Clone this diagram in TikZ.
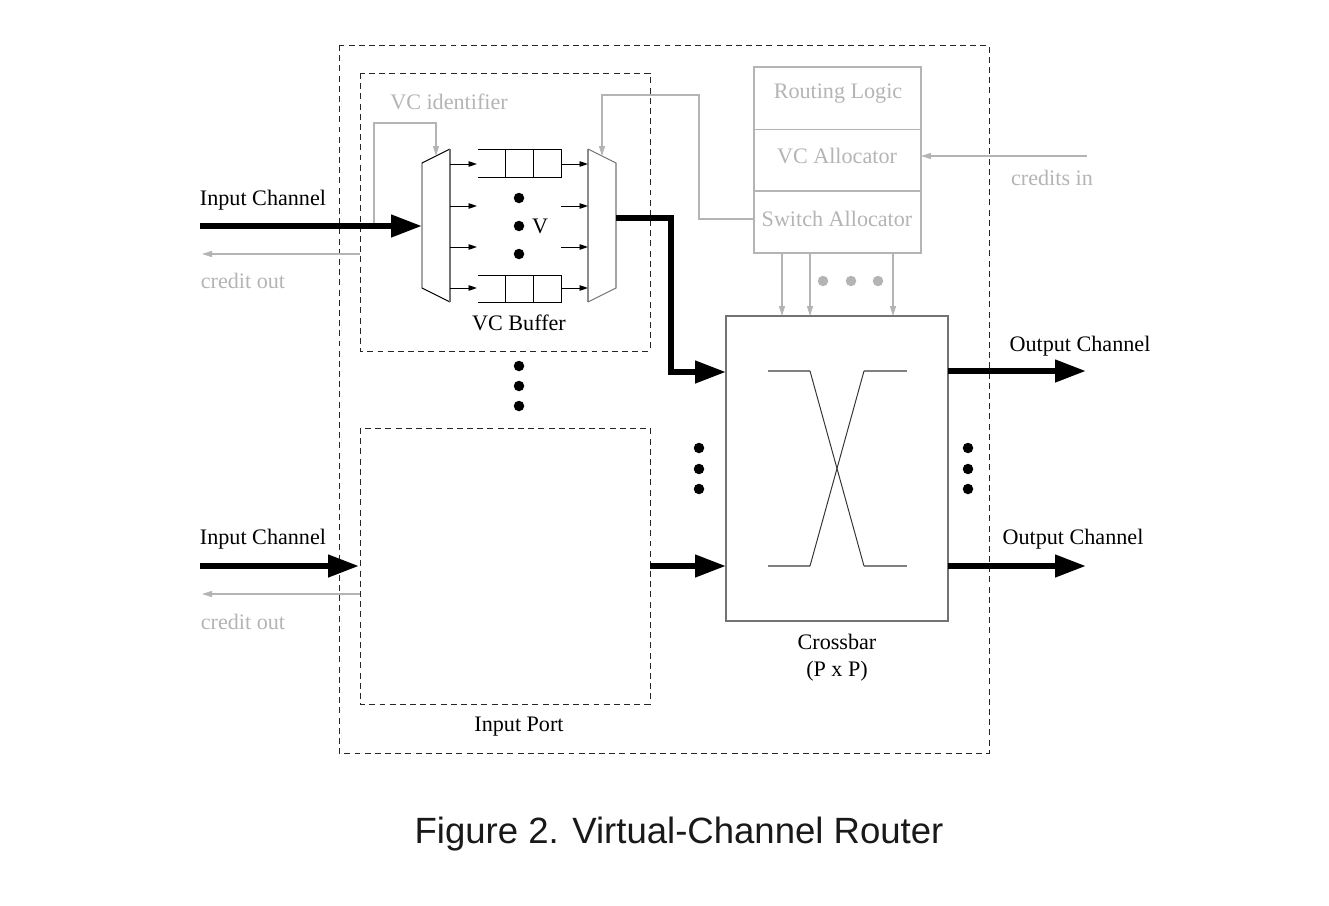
\documentclass[tikz,border=0pt]{standalone}
\usepackage{fontspec}
\setmainfont{Liberation Serif}
\newfontfamily\captionfont{Liberation Sans}
\usetikzlibrary{arrows.meta,calc}
\definecolor{ctrlgray}{HTML}{B4B4B4}
\tikzset{
 lbl/.style={font=\fontsize{12.6}{14}\selectfont,inner sep=0pt},
 graylbl/.style={lbl,text=ctrlgray},
 dashbox/.style={draw,black!85,line width=0.5pt,dash pattern=on 3.4pt off 2.4pt},
 fatline/.style={line width=3.4pt,-{Triangle[length=0.62cm,width=0.43cm]}},
 thinarrow/.style={line width=0.55pt,-{Triangle[length=0.17cm,width=0.11cm]}},
 ctrlline/.style={ctrlgray,line width=0.6pt},
 ctrlarrow/.style={ctrlline,-{Triangle[length=0.2cm,width=0.12cm]}},
 blk/.style={fill=black,circle,inner sep=0pt,minimum size=0.21cm},
 grayblk/.style={blk,fill=ctrlgray},
}
\begin{document}
\begin{tikzpicture}[x=0.02cm,y=-0.02cm]
 \useasboundingbox (0,0) rectangle (1329,906);
 % outer boxes
 \draw[dashbox] (339,45) rectangle (989,753);
 \draw[dashbox] (360,73) rectangle (650,351);
 \draw[dashbox] (360,428) rectangle (650,704);
 \coordinate (inA) at (200,226); \coordinate (inB) at (200,566);
 \coordinate (portB) at (359,566); \coordinate (portBout) at (650,566);
 \coordinate (demuxIn) at (422,226); \coordinate (muxOut) at (616,218);
 \coordinate (xbarA) at (726,372); \coordinate (xbarB) at (726,566);
 \coordinate (xbarC) at (948,371); \coordinate (xbarD) at (948,566);
 \coordinate (outA) at (1086,371); \coordinate (outB) at (1086,566);
 % mux and demux
 \draw[line width=0.55pt] (450,149)--(422,163)--(422,288)--(450,302);
 \draw[black!55,line width=0.7pt] (450,149)--(450,302);
 \draw[black!45,line width=0.7pt] (588,149)--(588,302);
 \draw[black!55,line width=0.6pt] (588,149)--(616,163)--(616,288)--(588,302);
 % vc buffers
 \foreach \ytop/\ybot in {149/177,275/302}{
  \draw[line width=0.55pt] (478,\ytop)--(561,\ytop)--(561,\ybot)--(478,\ybot);
  \draw[line width=0.55pt] (505,\ytop)--(505,\ybot);
  \draw[line width=0.55pt] (533,\ytop)--(533,\ybot);
 }
 \foreach \y in {164,206,247,288}{
  \draw[thinarrow] (450,\y)--(477,\y);
  \draw[thinarrow] (561,\y)--(588,\y);
 }
 \node[blk] (vdotA) at (519,198) {}; \node[blk] (vdotB) at (519,226) {}; \node[blk] (vdotC) at (519,254) {};
 \node[lbl] (vcount) at (540,226) {V};
 \node[lbl] (vcbuf) at (519,323) {VC Buffer};
 % control blocks
 \node[graylbl] (vcid) at (449,102) {VC identifier};
 \draw[ctrlline] (754,67) rectangle (921,253);
 \draw[ctrlline] (754,129.5)--(921,129.5);
 \draw[ctrlline] (754,191)--(921,191);
 \node[graylbl] (routing) at (838,94) {Routing Logic};
 \node[graylbl] (vcalloc) at (837,156) {VC Allocator};
 \node[graylbl] (swalloc) at (837,219) {Switch Allocator};
 \node[graylbl] (credin) at (1052,178) {credits in};
 \coordinate (swleft) at (754,219); \coordinate (vcright) at (921,156); \coordinate (credsrc) at (1087,156);
 \draw[ctrlarrow] (credsrc)--(vcright);
 \draw[ctrlarrow] (swleft)--(699,219)--(699,95)--(602,95)--(602,156);
 \draw[ctrlarrow] (374,226)--(374,123)--(436,123)--(436,156);
 \foreach \x in {782,810,893}
  \draw[ctrlarrow] (\x,253)--(\x,316);
 \node[grayblk] (gdotA) at (823,281) {}; \node[grayblk] (gdotB) at (851,281) {}; \node[grayblk] (gdotC) at (878,281) {};
 % crossbar
 \draw[line width=0.65pt,black!55] (726,316) rectangle (948,621);
 \draw[line width=0.6pt,black!50] (768,371)--(810,371) (864,566)--(907,566) (768,566)--(810,566) (864,371)--(907,371);
 \draw[line width=0.55pt,black!80] (810,371)--(864,566);
 \draw[line width=0.55pt,black!80] (810,566)--(864,371);
 \node[lbl] (xbarname) at (837,642) {Crossbar};
 \node[lbl] (xbarsize) at (837,671) {(P x P)};
 % channels
 \draw[fatline] (inA)--(demuxIn);
 \draw[fatline] (inB)--(portB);
 \draw[fatline] (muxOut)--(671,218)--(671,372)--(xbarA);
 \draw[fatline] (portBout)--(xbarB);
 \draw[fatline] (xbarC)--(outA);
 \draw[fatline] (xbarD)--(outB);
 \draw[ctrlarrow] (360,254)--(202,254);
 \draw[ctrlarrow] (360,594)--(202,594);
 \node[lbl] (inlblA) at (263,200) {Input Channel};
 \node[lbl] (inlblB) at (263,539) {Input Channel};
 \node[graylbl] (credA) at (243,281) {credit out};
 \node[graylbl] (credB) at (243,622) {credit out};
 \node[lbl] (outlblA) at (1080,346) {Output Channel};
 \node[lbl] (outlblB) at (1073,539) {Output Channel};
 \node[lbl] (inport) at (519,727) {Input Port};
 % dots between ports
 \foreach \x/\y in {519/366,519/386,519/406,699/448,699/469,699/489,968/448,968/469,968/489}
  \node[blk] (dot\x\y) at (\x,\y) {};
 \node[font=\captionfont\fontsize{20.8}{24}\selectfont,text=black!90,inner sep=0pt] (caption) at (679,834) {Figure 2. Virtual-Channel Router};
\end{tikzpicture}
\end{document}
